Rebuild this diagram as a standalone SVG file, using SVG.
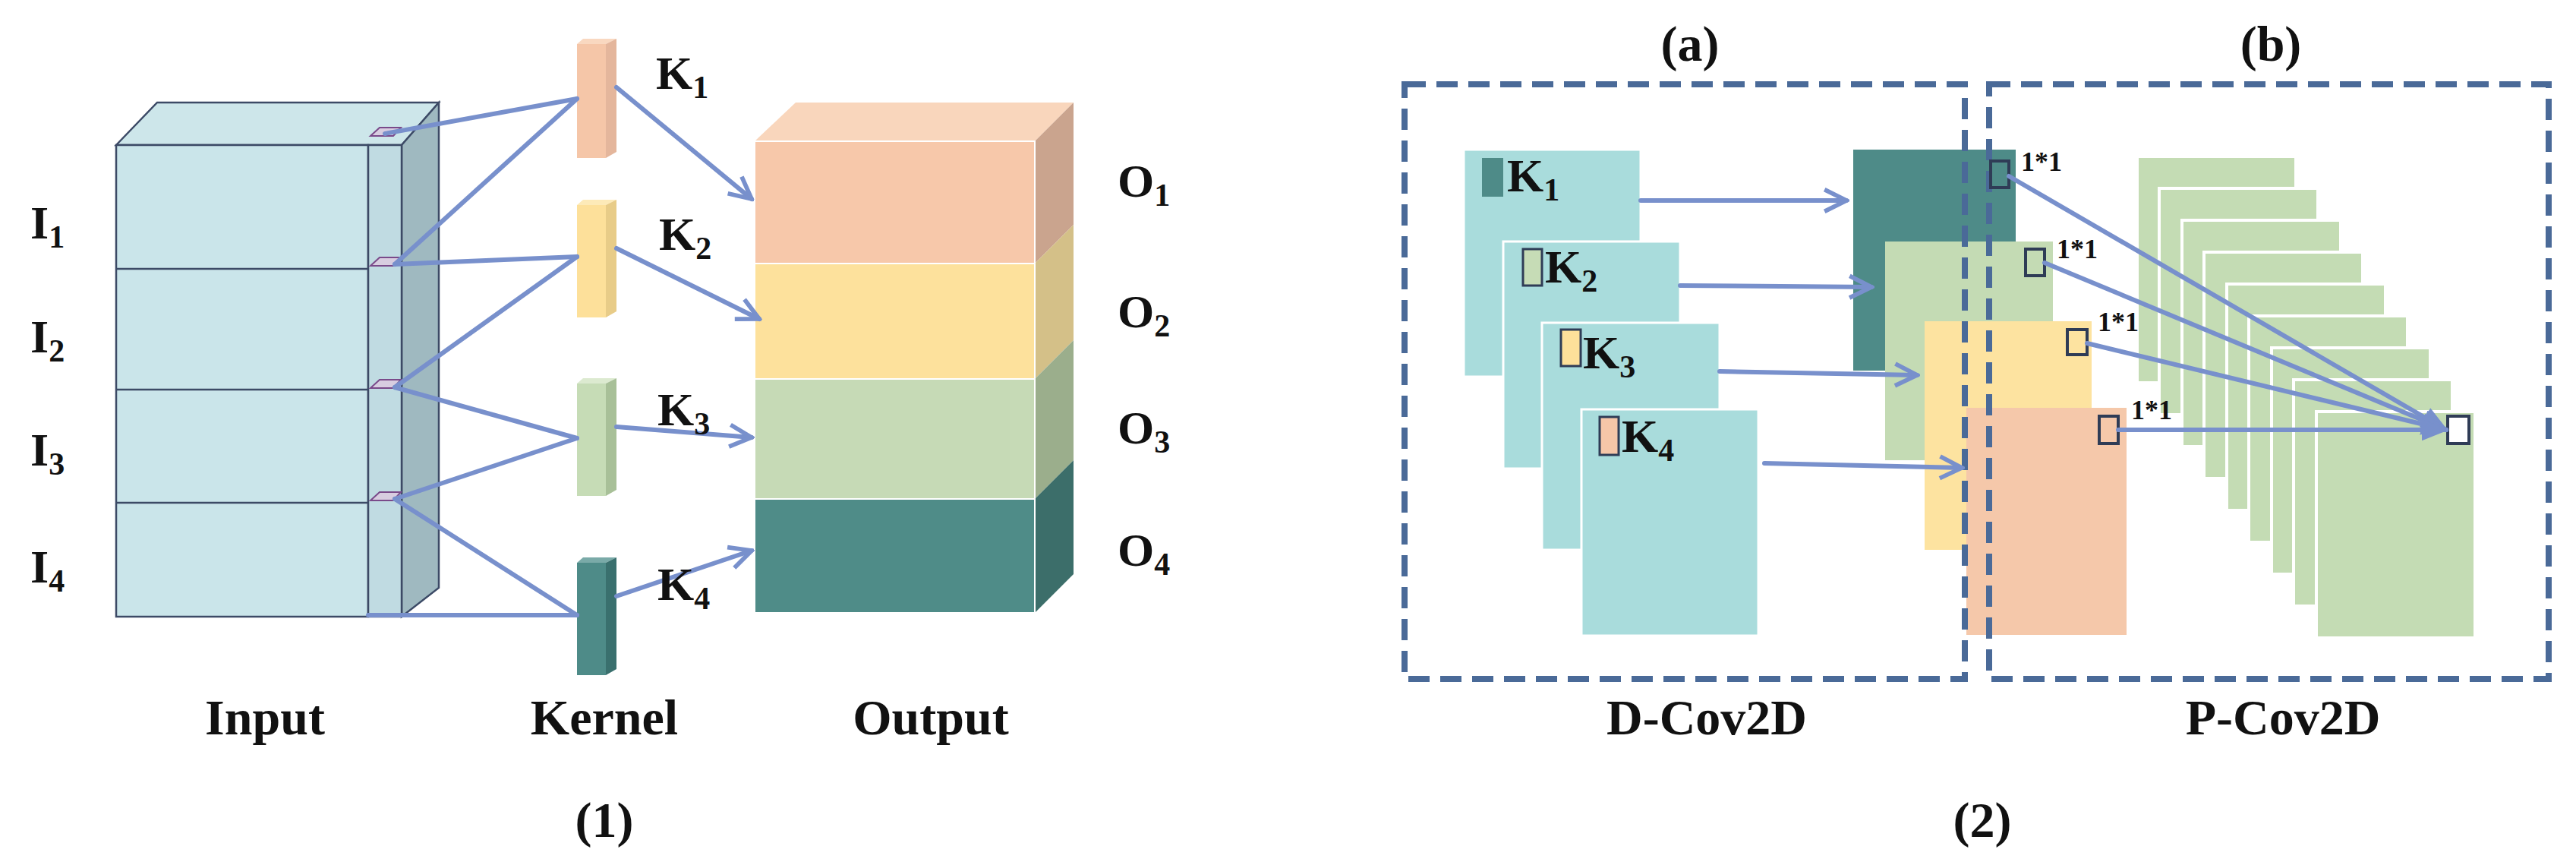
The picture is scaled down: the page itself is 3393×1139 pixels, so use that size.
<svg xmlns="http://www.w3.org/2000/svg" width="3393" height="1139" viewBox="0 0 3393 1139">
<style>
text{font-family:"Liberation Serif","Times New Roman",serif;font-weight:bold;fill:#111}
.lbl{font-size:62px}
.sub{font-size:42px}
.cap{font-size:66px;text-anchor:middle}
.sm{font-size:36px}
.ln{stroke:#7890cc;stroke-width:6;fill:none;stroke-linecap:round}
.dash{fill:none;stroke:#4a6a98;stroke-width:8;stroke-dasharray:28 14}
.edge{stroke:#3c4a66;stroke-width:2.5}
.gp{fill:#c4dcb4;stroke:#fff;stroke-width:4}
.sq{fill:none;stroke:#2f3c56;stroke-width:4}
</style>
<defs>
<marker id="ah" viewBox="0 0 10 10" refX="9" refY="5" markerWidth="6" markerHeight="6" orient="auto" markerUnits="strokeWidth">
<polyline points="1,1 9,5 1,9" fill="none" stroke="#7890cc" stroke-width="1.6"/>
</marker>
<marker id="ahf" viewBox="0 0 10 10" refX="9" refY="5" markerWidth="6" markerHeight="6" orient="auto" markerUnits="strokeWidth">
<path d="M0,1 L10,5 L0,9 z" fill="#7890cc"/>
</marker>
</defs>
<rect width="3393" height="1139" fill="#fff"/>

<!-- Panel 1 -->
<g id="input">
<polygon points="153,191 207,135 578,135 529,191" fill="#cde6ea" class="edge"/>
<polygon points="529,191 578,135 578,774 529,812" fill="#9fb9c0" class="edge"/>
<rect x="153" y="191" width="332" height="621" fill="#cae5ea" class="edge"/>
<rect x="485" y="191" width="44" height="621" fill="#c0dbe2" class="edge"/>
<line x1="153" y1="354" x2="485" y2="354" class="edge"/>
<line x1="153" y1="513" x2="485" y2="513" class="edge"/>
<line x1="153" y1="662" x2="485" y2="662" class="edge"/>
<g fill="#d8cde0" stroke="#7a4a8a" stroke-width="2">
<polygon points="488,179 500,168 528,168 518,179"/>
<polygon points="488,350 500,339 528,339 518,350"/>
<polygon points="488,511 500,500 528,500 518,511"/>
<polygon points="488,659 500,648 528,648 518,659"/>
</g>
</g>
<g id="kernels">
<g><polygon points="760,58 768,51 812,51 798,58" fill="#f9d8c0"/><polygon points="798,58 812,51 812,200 798,208" fill="#e4b69c"/><rect x="760" y="58" width="38" height="150" fill="#f5c6a8"/></g>
<g><polygon points="760,270 768,263 812,263 798,270" fill="#fdeab8"/><polygon points="798,270 812,263 812,410 798,418" fill="#e8cc88"/><rect x="760" y="270" width="38" height="148" fill="#fde09a"/></g>
<g><polygon points="760,505 768,498 812,498 798,505" fill="#dcead0"/><polygon points="798,505 812,498 812,645 798,653" fill="#a8c098"/><rect x="760" y="505" width="38" height="148" fill="#c6dcb6"/></g>
<g><polygon points="760,741 768,734 812,734 798,741" fill="#7aaaa8"/><polygon points="798,741 812,734 812,881 798,889" fill="#3a706e"/><rect x="760" y="741" width="38" height="148" fill="#4e8b88"/></g>
</g>
<g id="output">
<polygon points="994,186 1048,135 1414,135 1363,186" fill="#f9d6bc"/>
<polygon points="1363,186 1414,135 1414,296 1363,347" fill="#caa48e"/>
<polygon points="1363,347 1414,296 1414,448 1363,499" fill="#d4c088"/>
<polygon points="1363,499 1414,448 1414,606 1363,657" fill="#9bae8c"/>
<polygon points="1363,657 1414,606 1414,756 1363,807" fill="#3c6e6a"/>
<rect x="994" y="186" width="369" height="161" fill="#f7c8aa" stroke="#fff" stroke-width="2"/>
<rect x="994" y="347" width="369" height="152" fill="#fde19c" stroke="#fff" stroke-width="2"/>
<rect x="994" y="499" width="369" height="158" fill="#c6dab6" stroke="#fff" stroke-width="2"/>
<rect x="994" y="657" width="369" height="150" fill="#4f8c88" stroke="#fff" stroke-width="2"/>
</g>
<g id="connectors1">
<line x1="507" y1="176" x2="760" y2="130" class="ln"/>
<line x1="520" y1="348" x2="760" y2="130" class="ln"/>
<line x1="520" y1="348" x2="760" y2="338" class="ln"/>
<line x1="520" y1="510" x2="760" y2="338" class="ln"/>
<line x1="520" y1="510" x2="760" y2="577" class="ln"/>
<line x1="520" y1="657" x2="760" y2="577" class="ln"/>
<line x1="520" y1="657" x2="760" y2="810" class="ln"/>
<line x1="485" y1="810" x2="760" y2="810" class="ln"/>
<line x1="812" y1="115" x2="990" y2="262" class="ln" marker-end="url(#ah)"/>
<line x1="812" y1="327" x2="1000" y2="420" class="ln" marker-end="url(#ah)"/>
<line x1="812" y1="562" x2="990" y2="576" class="ln" marker-end="url(#ah)"/>
<line x1="812" y1="785" x2="990" y2="725" class="ln" marker-end="url(#ah)"/>
</g>
<g id="labels1">
<text class="lbl" x="40" y="314">I<tspan class="sub" dy="12">1</tspan></text>
<text class="lbl" x="40" y="464">I<tspan class="sub" dy="12">2</tspan></text>
<text class="lbl" x="40" y="613">I<tspan class="sub" dy="12">3</tspan></text>
<text class="lbl" x="40" y="767">I<tspan class="sub" dy="12">4</tspan></text>
<text class="lbl" x="864" y="117">K<tspan class="sub" dy="12">1</tspan></text>
<text class="lbl" x="868" y="329">K<tspan class="sub" dy="12">2</tspan></text>
<text class="lbl" x="866" y="560">K<tspan class="sub" dy="12">3</tspan></text>
<text class="lbl" x="866" y="790">K<tspan class="sub" dy="12">4</tspan></text>
<text class="lbl" x="1472" y="259">O<tspan class="sub" dy="12">1</tspan></text>
<text class="lbl" x="1472" y="431">O<tspan class="sub" dy="12">2</tspan></text>
<text class="lbl" x="1472" y="584">O<tspan class="sub" dy="12">3</tspan></text>
<text class="lbl" x="1472" y="745">O<tspan class="sub" dy="12">4</tspan></text>
<text class="cap" x="349" y="967">Input</text>
<text class="cap" x="796" y="967">Kernel</text>
<text class="cap" x="1226" y="967">Output</text>
<text class="cap" x="796" y="1102">(1)</text>
</g>

<!-- Panel 2 -->
<g id="dcov-inputs">
<rect x="1928" y="197" width="233" height="299" fill="#a9dcdc" stroke="#fff" stroke-width="3"/>
<rect x="1980" y="318" width="233" height="299" fill="#a9dcdc" stroke="#fff" stroke-width="3"/>
<rect x="2031" y="425" width="234" height="299" fill="#a9dcdc" stroke="#fff" stroke-width="3"/>
<rect x="2083" y="539" width="233" height="298" fill="#a9dcdc" stroke="#fff" stroke-width="3"/>
<rect x="1952" y="208" width="28" height="51" fill="#4e8b88"/>
<rect x="2006" y="328" width="25" height="48" fill="#c6dcb6" stroke="#2f3c56" stroke-width="3"/>
<rect x="2056" y="434" width="26" height="48" fill="#fde09a" stroke="#2f3c56" stroke-width="3"/>
<rect x="2107" y="549" width="25" height="50" fill="#f5c6a8" stroke="#2f3c56" stroke-width="3"/>
<text class="lbl" x="1985" y="252">K<tspan class="sub" dy="12">1</tspan></text>
<text class="lbl" x="2035" y="372">K<tspan class="sub" dy="12">2</tspan></text>
<text class="lbl" x="2085" y="485">K<tspan class="sub" dy="12">3</tspan></text>
<text class="lbl" x="2136" y="595">K<tspan class="sub" dy="12">4</tspan></text>
</g>
<g id="dcov-outputs">
<rect x="2441" y="197" width="214" height="291" fill="#4e8b88"/>
<rect x="2483" y="318" width="221" height="288" fill="#c4dbb4"/>
<rect x="2535" y="423" width="220" height="301" fill="#fde3a0"/>
<rect x="2590" y="537" width="211" height="299" fill="#f5c8aa"/>
</g>
<g id="pcov-stack">
<rect x="2815" y="206" width="209" height="298" class="gp"/>
<rect x="2844" y="248" width="209" height="298" class="gp"/>
<rect x="2874" y="290" width="209" height="298" class="gp"/>
<rect x="2903" y="332" width="209" height="298" class="gp"/>
<rect x="2933" y="374" width="209" height="298" class="gp"/>
<rect x="2962" y="416" width="209" height="298" class="gp"/>
<rect x="2992" y="458" width="209" height="298" class="gp"/>
<rect x="3021" y="500" width="209" height="298" class="gp"/>
<rect x="3051" y="542" width="209" height="298" class="gp"/>
<rect x="3224" y="548" width="28" height="36" fill="#fff" stroke="#2f3c56" stroke-width="4"/>
</g>
<g id="boxes">
<rect x="1850" y="111" width="738" height="783" class="dash"/>
<rect x="2620" y="111" width="737" height="783" class="dash"/>
</g>
<g id="squares">
<rect x="2622" y="212" width="24" height="35" class="sq"/>
<rect x="2668" y="328" width="25" height="35" class="sq"/>
<rect x="2723" y="434" width="26" height="33" class="sq"/>
<rect x="2765" y="548" width="25" height="36" class="sq"/>
<text class="sm" x="2662" y="225">1*1</text>
<text class="sm" x="2709" y="340">1*1</text>
<text class="sm" x="2763" y="436">1*1</text>
<text class="sm" x="2807" y="552">1*1</text>
</g>
<g id="connectors2">
<line x1="2161" y1="264" x2="2432" y2="264" class="ln" marker-end="url(#ah)"/>
<line x1="2213" y1="376" x2="2465" y2="378" class="ln" marker-end="url(#ah)"/>
<line x1="2265" y1="489" x2="2525" y2="494" class="ln" marker-end="url(#ah)"/>
<line x1="2324" y1="610" x2="2584" y2="616" class="ln" marker-end="url(#ah)"/>
<line x1="2646" y1="232" x2="3222" y2="566" class="ln" marker-end="url(#ahf)"/>
<line x1="2693" y1="346" x2="3222" y2="566" class="ln" marker-end="url(#ahf)"/>
<line x1="2749" y1="452" x2="3222" y2="566" class="ln" marker-end="url(#ahf)"/>
<line x1="2790" y1="566" x2="3222" y2="566" class="ln" marker-end="url(#ahf)"/>
</g>
<g id="labels2">
<text class="cap" x="2226" y="80">(a)</text>
<text class="cap" x="2991" y="80">(b)</text>
<text class="cap" x="2248" y="967">D-Cov2D</text>
<text class="cap" x="3007" y="967">P-Cov2D</text>
<text class="cap" x="2611" y="1102">(2)</text>
</g>
</svg>
